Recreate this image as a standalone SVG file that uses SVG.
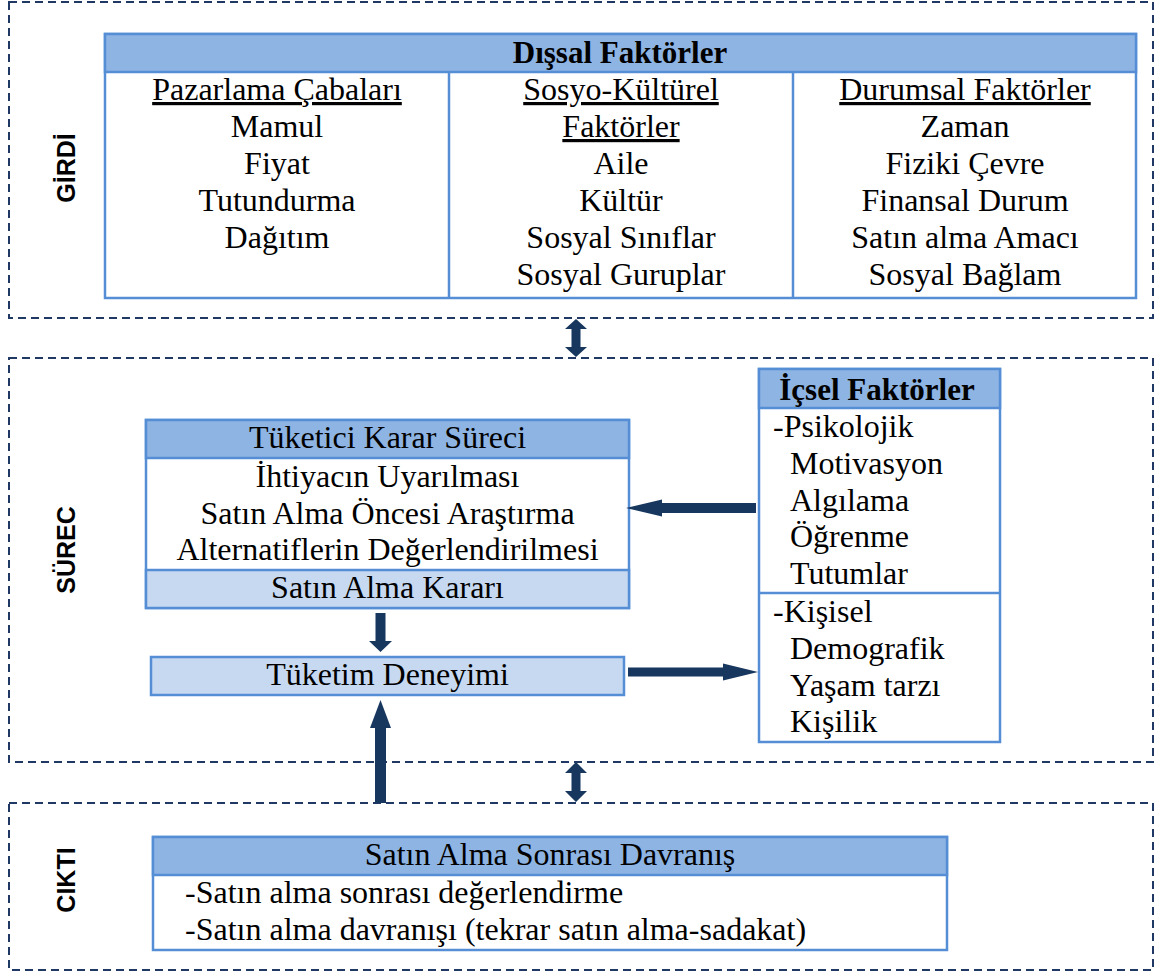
<svg xmlns="http://www.w3.org/2000/svg" width="1161" height="973" viewBox="0 0 1161 973">
<style>
.zone{fill:none;stroke:#1f3864;stroke-width:2;stroke-dasharray:8 5}
.box{fill:#ffffff;stroke:#558ed5;stroke-width:2.5}
.hdr{fill:#8eb4e3;stroke:#558ed5;stroke-width:2.5}
.lt{fill:#c6d9f1;stroke:#558ed5;stroke-width:2.5}
.t{font-family:"Liberation Serif","Times New Roman",serif;font-size:32px;fill:#000}
.c{text-anchor:middle}
.b{font-weight:bold;font-size:31px}
.u{text-decoration:underline}
.side{font-family:"Liberation Sans",Arial,sans-serif;font-size:25px;font-weight:bold;fill:#000;text-anchor:middle}
.arr{fill:#17375e}
</style>
<rect width="1161" height="973" fill="#ffffff"/>
<g id="zones">
<rect class="zone" x="9" y="2" width="1144" height="316"/>
<rect class="zone" x="9" y="358" width="1144" height="404"/>
<rect class="zone" x="9" y="803" width="1144" height="167"/>
<text class="side" transform="translate(75,168) rotate(-90)">GİRDİ</text>
<text class="side" transform="translate(75,550) rotate(-90)">SÜREC</text>
<text class="side" transform="translate(75,880) rotate(-90)">CIKTI</text>
</g>
<g id="dissal">
<rect class="box" x="105" y="34" width="1031" height="264"/>
<rect class="hdr" x="105" y="34" width="1031" height="38"/>
<line x1="449" y1="72" x2="449" y2="298" stroke="#558ed5" stroke-width="2.5"/>
<line x1="793" y1="72" x2="793" y2="298" stroke="#558ed5" stroke-width="2.5"/>
<text class="t c b" x="620" y="63">Dışsal Faktörler</text>
<text class="t c u" x="277" y="100">Pazarlama Çabaları</text>
<text class="t c" x="277" y="137">Mamul</text>
<text class="t c" x="277" y="174">Fiyat</text>
<text class="t c" x="277" y="211">Tutundurma</text>
<text class="t c" x="277" y="248">Dağıtım</text>
<text class="t c u" x="621" y="100">Sosyo-Kültürel</text>
<text class="t c u" x="621" y="137">Faktörler</text>
<text class="t c" x="621" y="174">Aile</text>
<text class="t c" x="621" y="211">Kültür</text>
<text class="t c" x="621" y="248">Sosyal Sınıflar</text>
<text class="t c" x="621" y="285">Sosyal Guruplar</text>
<text class="t c u" x="965" y="100">Durumsal Faktörler</text>
<text class="t c" x="965" y="137">Zaman</text>
<text class="t c" x="965" y="174">Fiziki Çevre</text>
<text class="t c" x="965" y="211">Finansal Durum</text>
<text class="t c" x="965" y="248">Satın alma Amacı</text>
<text class="t c" x="965" y="285">Sosyal Bağlam</text>
</g>
<g id="karar">
<rect class="box" x="146" y="420" width="483" height="188"/>
<rect class="hdr" x="146" y="420" width="483" height="38"/>
<rect class="lt" x="146" y="570" width="483" height="38"/>
<text class="t c" x="387.5" y="448">Tüketici Karar Süreci</text>
<text class="t c" x="387.5" y="487">İhtiyacın Uyarılması</text>
<text class="t c" x="387.5" y="524">Satın Alma Öncesi Araştırma</text>
<text class="t c" x="387.5" y="560">Alternatiflerin Değerlendirilmesi</text>
<text class="t c" x="387.5" y="598">Satın Alma Kararı</text>
</g>
<g id="deneyim">
<rect class="lt" x="151" y="657" width="473" height="38"/>
<text class="t c" x="387.5" y="685">Tüketim Deneyimi</text>
</g>
<g id="icsel">
<rect class="box" x="759" y="369" width="241" height="373"/>
<rect class="hdr" x="759" y="369" width="241" height="39"/>
<line x1="759" y1="593" x2="1000" y2="593" stroke="#558ed5" stroke-width="2.5"/>
<text class="t c b" x="877" y="400">İçsel Faktörler</text>
<text class="t" x="773" y="437">-Psikolojik</text>
<text class="t" x="790" y="474">Motivasyon</text>
<text class="t" x="790" y="511">Algılama</text>
<text class="t" x="790" y="547">Öğrenme</text>
<text class="t" x="790" y="584">Tutumlar</text>
<text class="t" x="773" y="622">-Kişisel</text>
<text class="t" x="790" y="659">Demografik</text>
<text class="t" x="790" y="696">Yaşam tarzı</text>
<text class="t" x="790" y="732">Kişilik</text>
</g>
<g id="sonrasi">
<rect class="box" x="153" y="837" width="794" height="113"/>
<rect class="hdr" x="153" y="837" width="794" height="38"/>
<text class="t c" x="550" y="865">Satın Alma Sonrası Davranış</text>
<text class="t" x="185" y="903">-Satın alma sonrası değerlendirme</text>
<text class="t" x="185" y="940">-Satın alma davranışı (tekrar satın alma-sadakat)</text>
</g>
<g id="connectors">
<polygon class="arr" points="576,319 587,329 580.5,329 580.5,347 587,347 576,357 565,347 571.5,347 571.5,329 565,329"/>
<polygon class="arr" points="576,762 587,773 580.5,773 580.5,791 587,791 576,802 565,791 571.5,791 571.5,773 565,773"/>
<polygon class="arr" points="375.5,613 385.5,613 385.5,641 392,641 380.5,652 369,641 375.5,641"/>
<polygon class="arr" points="380.5,700 391,728 386,728 386,803 375,803 375,728 370,728"/>
<polygon class="arr" points="626,508 662,499.5 662,503 756,503 756,513 662,513 662,516.5"/>
<polygon class="arr" points="628,667.5 723,667.5 723,663.5 758,672 723,680.5 723,676.5 628,676.5"/>
</g>
</svg>
